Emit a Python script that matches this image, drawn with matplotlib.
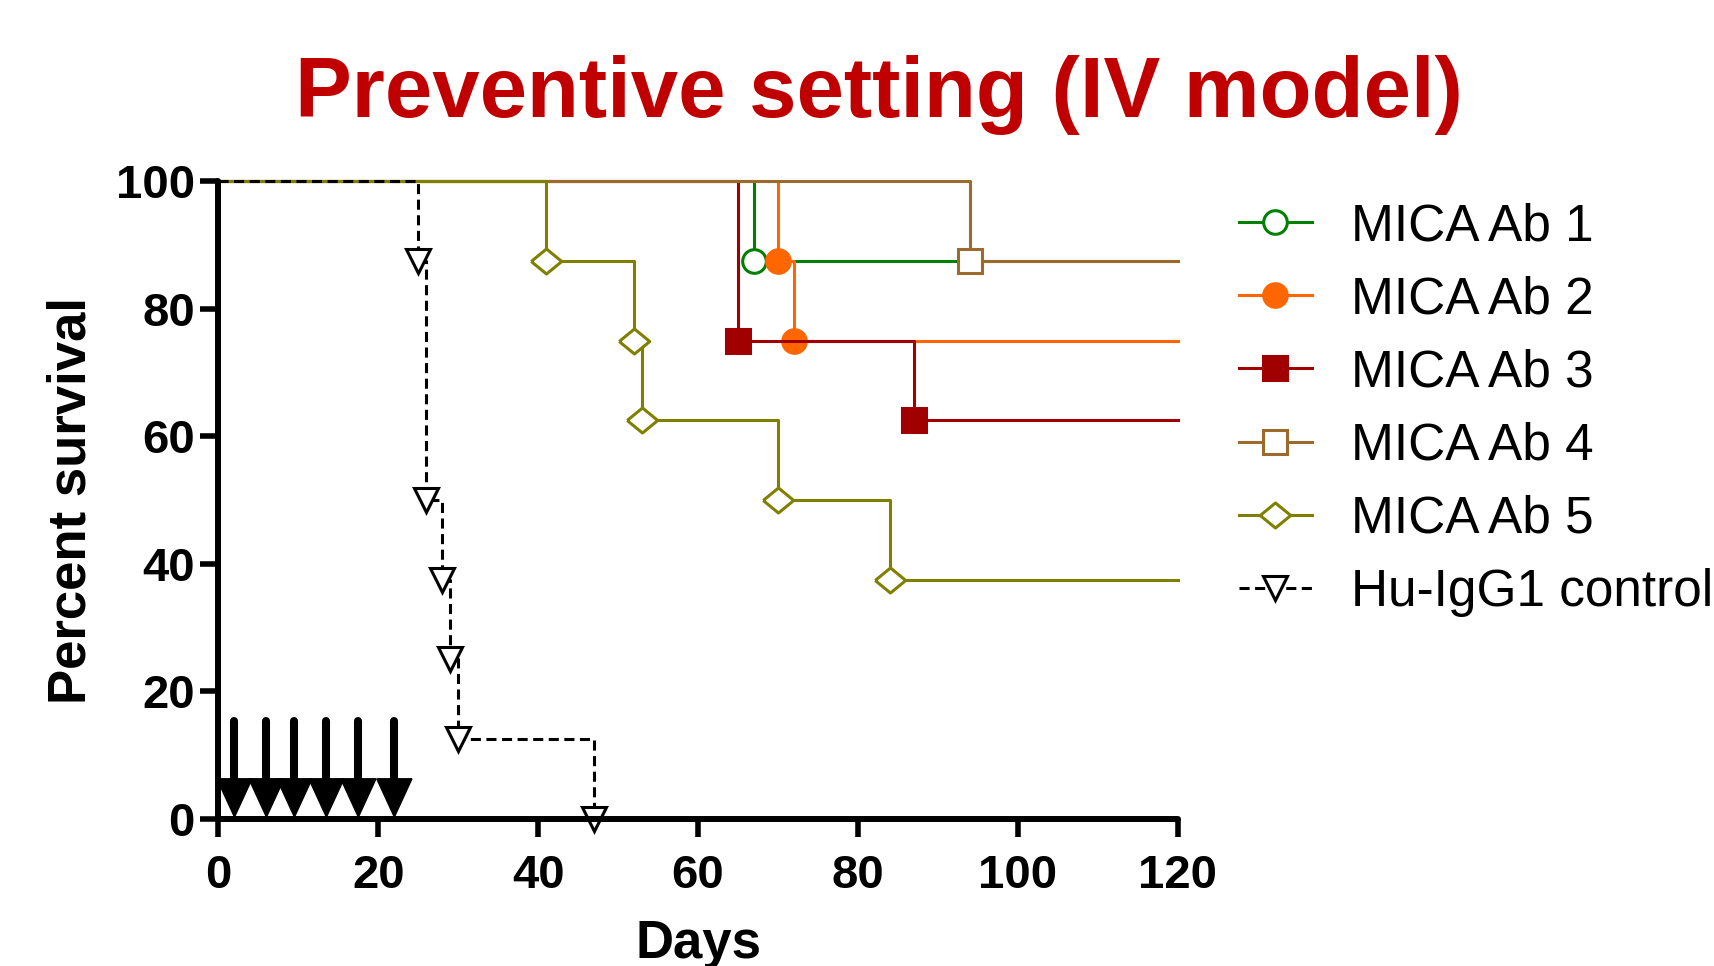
import matplotlib
matplotlib.use("Agg")
import matplotlib.pyplot as plt
import numpy as np

plt.rcParams['font.family'] = ['Liberation Sans', 'DejaVu Sans']

# Kaplan-Meier event times (days) and survival (%) after each event
groups = ["MICA Ab 1", "MICA Ab 2", "MICA Ab 3", "MICA Ab 4", "MICA Ab 5",
          "Hu-IgG1 control"]
event_days = [
    [67],
    [70, 72],
    [65, 87],
    [94],
    [41, 52, 53, 70, 84],
    [25, 26, 28, 29, 30, 47],
]
event_surv = [
    [87.5],
    [87.5, 75.0],
    [75.0, 62.5],
    [87.5],
    [87.5, 75.0, 62.5, 50.0, 37.5],
    [87.5, 50.0, 37.5, 25.0, 12.5, 0.0],
]
end_day = [120, 120, 120, 120, 120, 47]

# dosing days (arrows)
dose_days = [2, 6, 9.5, 13.5, 17.5, 22]

colors = ['#008000', '#FF6600', '#A00000', '#9C6A2A', '#808000', 'black']
diamond = [(-1.22, 0), (0, 1), (1.22, 0), (0, -1), (-1.22, 0)]
markers = ['o', 'o', 's', 's', diamond, 'v']
sizes = [17, 17, 17, 17, 22, 17]
faces = ['white', '#FF6600', '#A00000', 'white', 'white', 'white']

fig = plt.figure(figsize=(17.15, 9.66), dpi=100)
ax = fig.add_axes([0.1274, 0.1522, 0.5593, 0.6604])

for i, name in enumerate(groups):
    xs = [0] + event_days[i] + [end_day[i]]
    ys = [100] + event_surv[i] + [event_surv[i][-1]]
    ls = (0, (3.3, 1.8)) if i == 5 else '-'
    ax.plot(xs, ys, drawstyle='steps-post', color=colors[i], lw=2.2,
            linestyle=ls, marker=markers[i], markersize=sizes[i],
            markerfacecolor=faces[i], markeredgecolor=colors[i],
            markeredgewidth=2.2, markevery=list(range(1, len(xs) - 1)),
            label=name, clip_on=False, zorder=3 + i)

# treatment arrows
for d in dose_days:
    ax.plot([d, d], [6.3, 15.3], color='black', lw=5.8,
            solid_capstyle='round', zorder=10, clip_on=False)
    ax.fill([d - 2.2, d + 2.2, d], [6.3, 6.3, 0.3], color='black',
            zorder=10, clip_on=False)

ax.set_xlim(0, 120)
ax.set_ylim(0, 100)
ax.set_xticks(np.arange(0, 121, 20))
ax.set_yticks(np.arange(0, 101, 20))
for s in ['top', 'right']:
    ax.spines[s].set_visible(False)
for s in ['left', 'bottom']:
    ax.spines[s].set_linewidth(4.3)
    ax.spines[s].set_capstyle('round')
    ax.spines[s].set_zorder(11)
ax.tick_params(axis='both', direction='out', length=13, width=4,
               labelsize=34)
ax.tick_params(axis='x', pad=12)
ax.tick_params(axis='y', pad=4)
for lab in ax.get_xticklabels() + ax.get_yticklabels():
    lab.set_fontweight('bold')

ax.set_xlabel("Days", fontsize=38, fontweight='bold', labelpad=15)
ax.set_ylabel("Percent survival", fontsize=38, fontweight='bold', labelpad=14)

fig.text(0.5125, 0.879, "Preventive setting (IV model)", fontsize=61.3,
         fontweight='bold', color='#C00000', ha='center', va='baseline')

leg = ax.legend(loc='upper left', bbox_to_anchor=(1.064, 0.967), frameon=False,
                fontsize=37, handlelength=1.415, handletextpad=0.77,
                labelspacing=0.47, borderpad=0, borderaxespad=0)

fig.savefig("out.png", dpi=100)
